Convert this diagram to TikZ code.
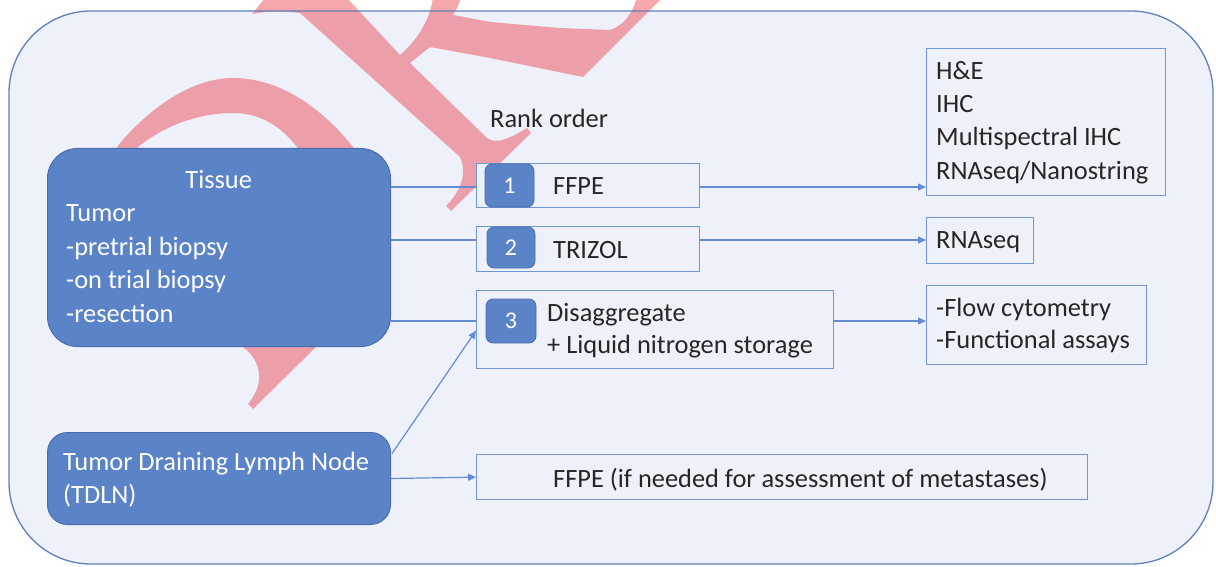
\documentclass[tikz,border=0pt]{standalone}
\usepackage{fontspec}
\setmainfont{Carlito}
\usetikzlibrary{arrows.meta,calc}
\definecolor{bgc}{RGB}{238,241,249}
\definecolor{framec}{RGB}{95,128,185}
\definecolor{boxc}{RGB}{112,150,215}
\definecolor{linec}{RGB}{100,140,210}
\definecolor{bluef}{RGB}{91,131,200}
\definecolor{blued}{RGB}{74,109,175}
\definecolor{txt}{RGB}{38,38,38}
\definecolor{wmc}{RGB}{235,60,70}
\tikzset{
  bigblue/.style={draw=blued, fill=bluef, line width=1pt, rounded corners=30pt, anchor=north west, inner sep=0pt},
  outbox/.style={draw=boxc, fill=bgc, line width=1.3pt, anchor=north west, inner sep=0pt},
  badge/.style={draw=blued, fill=bluef, line width=0.8pt, rounded corners=7pt, inner sep=0pt, text=white, font=\fontsize{24}{24}\selectfont},
  lbl/.style={anchor=base west, inner sep=0pt, text=txt, align=left, font=\fontsize{26.4}{33.4}\selectfont},
  wlbl/.style={anchor=base west, inner sep=0pt, text=white, align=left, font=\fontsize{26.4}{33.5}\selectfont},
  conn/.style={draw=linec, line width=1.2pt},
  arr/.style={conn, -{Triangle[length=8pt,width=7pt]}},
  wmark/.style={fill=wmc, fill opacity=0.45}
}
\begin{document}
\begin{tikzpicture}[x=1pt,y=-1pt]
\useasboundingbox (0,0) rectangle (1216,567);
\fill[white] (0,0) rectangle (1216,567);
\fill[bgc, rounded corners=82pt] (9,11) rectangle (1213,564);
% watermark (rotated serif letters, partly hidden)
\fill[wmark] (110,165) -- (117,147) .. controls (140,118) and (185,78) .. (233,78)
  .. controls (280,78) and (322,108) .. (353,147) -- (365,180) -- (300,180) -- (297,147)
  .. controls (282,128) and (262,113) .. (233,113) .. controls (200,113) and (165,125) .. (138,147)
  -- (132,165) -- cycle;
\fill[wmark] (243,347) .. controls (258,358) and (268,380) .. (248,404) -- (253,409)
  -- (316,347) -- (316,335) -- (243,335) -- cycle;
\fill[wmark] (252,14) -- (266,-3) -- (346,-3) -- (400,55)
  .. controls (415,42) and (430,22) .. (433,-3) -- (461,-3)
  .. controls (459,5) and (456,10) .. (453,15) -- (490,22) -- (560,28) -- (610,30)
  .. controls (625,25) and (633,12) .. (637,-3) -- (663,-3) -- (583,77) -- (490,58) -- (430,47)
  -- (410,63) -- (487,138) .. controls (497,145) and (510,138) .. (527,128) -- (531,133)
  -- (451,211) -- (446,206) .. controls (462,190) and (467,172) .. (460,157)
  -- (300,13) .. controls (285,11) and (265,11) .. (252,14) -- cycle;
\draw[framec, line width=1.3pt, rounded corners=82pt] (9,11) rectangle (1213,564);

% left blue boxes
\node[bigblue, minimum width=343pt, minimum height=198pt] (tissue) at (47,148) {};
\node[bigblue, rounded corners=20pt, minimum width=343pt, minimum height=92pt] (tdln) at (47,432) {};
\node[wlbl] (tissuet) at (66,322) {\makebox[305pt]{Tissue}\\Tumor\\-pretrial biopsy\\-on trial biopsy\\-resection};
\node[wlbl, font=\fontsize{26.4}{33}\selectfont] (tdlnt) at (63,503) {Tumor Draining Lymph Node\\(TDLN)};

% rank boxes
\node[lbl] (rank) at (490,128) {Rank order};
\node[outbox, minimum width=223pt, minimum height=44pt] (ffpe) at (476,163) {};
\node[outbox, minimum width=223pt, minimum height=45pt] (trizol) at (476,226) {};
\node[outbox, minimum width=357pt, minimum height=78pt] (disagg) at (476,290) {};
\node[outbox, minimum width=611pt, minimum height=45pt] (ffpe2) at (476,454) {};

\node[badge, minimum width=49pt, minimum height=43pt] (b1) at (509.5,185.5) {1};
\node[badge, minimum width=48pt, minimum height=41pt] (b2) at (511,247.5) {2};
\node[badge, minimum width=50pt, minimum height=44pt] (b3) at (511,321) {3};

\node[lbl] (ffpet) at (553,194) {FFPE};
\node[lbl] (trizolt) at (553,258) {TRIZOL};
\node[lbl, font=\fontsize{26.4}{32}\selectfont] (disaggt) at (547,353) {Disaggregate\\+ Liquid nitrogen storage};
\node[lbl] (ffpe2t) at (553,487) {FFPE (if needed for assessment of metastases)};

% output boxes
\node[outbox, minimum width=239pt, minimum height=147pt] (hne) at (926,48) {};
\node[outbox, minimum width=107pt, minimum height=46pt] (rnaseq) at (926,217) {};
\node[outbox, minimum width=220pt, minimum height=79pt] (flow) at (926,285) {};
\node[lbl, font=\fontsize{26.4}{33.3}\selectfont] (hnet) at (936,179) {H\&E\\IHC\\Multispectral IHC\\RNAseq/Nanostring};
\node[lbl] (rnaseqt) at (936,248) {RNAseq};
\node[lbl, font=\fontsize{26.4}{31.5}\selectfont] (flowt) at (936,348) {-Flow cytometry\\-Functional assays};

% connectors
\coordinate (r1) at (0,187);
\coordinate (r2) at (0,240);
\coordinate (r3) at (0,321);
\draw[conn] (tissue.east |- r1) -- (ffpe.west |- r1);
\draw[conn] (tissue.east |- r2) -- (trizol.west |- r2);
\draw[conn] (tissue.east |- r3) -- (disagg.west |- r3);
\draw[arr] ($(tdln.east)+(1,-25)$) -- ($(disagg.west)+(0,1)$);
\draw[arr] (tdln.east) -- (ffpe2.west);
\draw[arr] (ffpe.east |- r1) -- (hne.west |- r1);
\draw[arr] (trizol.east |- r2) -- (rnaseq.west |- r2);
\draw[arr] (disagg.east |- r3) -- (flow.west |- r3);
\end{tikzpicture}
\end{document}
